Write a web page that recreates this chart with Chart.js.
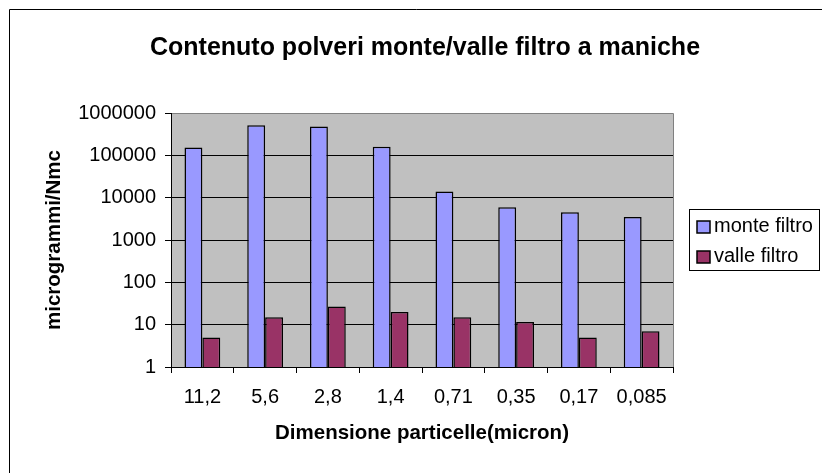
<!DOCTYPE html>
<html><head><meta charset="utf-8">
<script src="https://cdn.jsdelivr.net/npm/chart.js@4/dist/chart.umd.min.js"></script>
<style>html,body{margin:0;padding:0;background:#fff;} canvas{display:block;}</style>
</head><body>
<canvas id="c" width="822" height="473"></canvas>
<script>
const categories = ['11,2','5,6','2,8','1,4','0,71','0,35','0,17','0,085'];
const monteFiltro = [153000, 515000, 478000, 159000, 14000, 5900, 4500, 3500];
const valleFiltro = [5, 15, 27, 20, 15, 11.5, 5, 7];
const yTickValues = [1, 10, 100, 1000, 10000, 100000, 1000000];
const yTickLabels = ['1', '10', '100', '1000', '10000', '100000', '1000000'];
const seriesNames = ['monte filtro', 'valle filtro'];
const titleText = 'Contenuto polveri monte/valle filtro a maniche';
const xTitle = 'Dimensione particelle(micron)';
const yTitle = 'microgrammi/Nmc';

const FONT = "'Liberation Sans', Arial, sans-serif";

const framePlugin = {
  id: 'frame',
  beforeDraw(chart) {
    const {ctx, chartArea: a} = chart;
    ctx.save();
    ctx.fillStyle = '#fff';
    ctx.fillRect(0, 0, chart.width, chart.height);
    ctx.strokeStyle = '#000';
    ctx.lineWidth = 1;
    ctx.beginPath();
    ctx.moveTo(9.5, chart.height + 2);
    ctx.lineTo(9.5, 9.5);
    ctx.lineTo(chart.width + 2, 9.5);
    ctx.stroke();
    ctx.fillStyle = '#C0C0C0';
    ctx.fillRect(a.left, a.top, a.right - a.left, a.bottom - a.top);
    ctx.strokeStyle = '#808080';
    ctx.beginPath();
    ctx.moveTo(Math.round(a.left), Math.round(a.top) + 0.5);
    ctx.lineTo(Math.round(a.right) + 0.5, Math.round(a.top) + 0.5);
    ctx.lineTo(Math.round(a.right) + 0.5, Math.round(a.bottom));
    ctx.stroke();
    ctx.restore();
  }
};

const boxLegend = {
  id: 'boxLegend',
  afterDraw(chart) {
    const ctx = chart.ctx;
    const x0 = 689.5, y0 = 209.5, w = 130, h = 61;
    ctx.save();
    ctx.fillStyle = '#fff';
    ctx.fillRect(x0, y0, w, h);
    ctx.strokeStyle = '#000';
    ctx.lineWidth = 1;
    ctx.strokeRect(x0, y0, w, h);
    ctx.font = '20px ' + FONT;
    ctx.textBaseline = 'alphabetic';
    ctx.textAlign = 'left';
    chart.data.datasets.forEach((ds, i) => {
      const cy = 227 + i * 30;
      ctx.fillStyle = ds.backgroundColor;
      ctx.fillRect(697, cy - 6, 13, 12);
      ctx.lineWidth = 1.5;
      ctx.strokeStyle = '#000';
      ctx.strokeRect(697, cy - 6, 13, 12);
      ctx.fillStyle = '#000';
      ctx.fillText(ds.label, 714, cy + 5);
    });
    ctx.restore();
  }
};

new Chart(document.getElementById('c'), {
  type: 'bar',
  data: {
    labels: categories,
    datasets: [
      { label: seriesNames[0], data: monteFiltro, backgroundColor: '#9999FF', borderColor: '#000', borderWidth: 1.5, categoryPercentage: 0.57, barPercentage: 1 },
      { label: seriesNames[1], data: valleFiltro, backgroundColor: '#993366', borderColor: '#000', borderWidth: 1.5, categoryPercentage: 0.57, barPercentage: 1 }
    ]
  },
  options: {
    responsive: false,
    devicePixelRatio: 1,
    animation: false,
    layout: { padding: { left: 28, right: 0, top: 0, bottom: 0 } },
    plugins: {
      legend: { display: false },
      tooltip: { enabled: false },
      title: {
        display: true, text: titleText, fullSize: true, color: '#000',
        font: { family: FONT, size: 25, weight: 'bold', lineHeight: 1.2 },
        padding: { top: 33, bottom: 50 }
      }
    },
    scales: {
      x: {
        type: 'category', offset: true,
        afterFit: s => { s.height = 106; },
        ticks: { font: { family: FONT, size: 20 }, color: '#000', padding: 12, autoSkip: false, maxRotation: 0, minRotation: 0 },
        grid: { offset: true, drawOnChartArea: false, drawTicks: true, tickLength: 6, tickColor: '#000', color: '#000' },
        border: { color: '#000', width: 1 },
        title: { display: true, text: xTitle, color: '#000', font: { family: FONT, size: 20.5, weight: 'bold' }, padding: { top: 0, bottom: 27 } }
      },
      y: {
        type: 'logarithmic', min: 1, max: 1000000,
        afterBuildTicks: s => { s.ticks = yTickValues.map(v => ({ value: v })); },
        afterFit: s => { s.width = 143; },
        ticks: {
          font: { family: FONT, size: 20 }, color: '#000', padding: 9, autoSkip: false,
          callback: v => { const i = yTickValues.indexOf(v); return i >= 0 ? yTickLabels[i] : ''; }
        },
        grid: {
          color: c => (c.tick && c.tick.value === 1000000) ? '#808080' : '#000',
          tickColor: '#000', tickLength: 6, drawTicks: true, lineWidth: 1
        },
        border: { color: '#000', width: 1 },
        title: { display: true, text: yTitle, color: '#000', font: { family: FONT, size: 20.5, weight: 'bold' }, padding: { top: 14, bottom: 0 } }
      },
      legendSpace: {
        type: 'linear', position: 'right', display: true,
        afterFit: s => { s.width = 149; },
        ticks: { display: false },
        grid: { display: false, drawTicks: false },
        border: { display: false },
        title: { display: false }
      }
    }
  },
  plugins: [framePlugin, boxLegend]
});
</script>
</body></html>
